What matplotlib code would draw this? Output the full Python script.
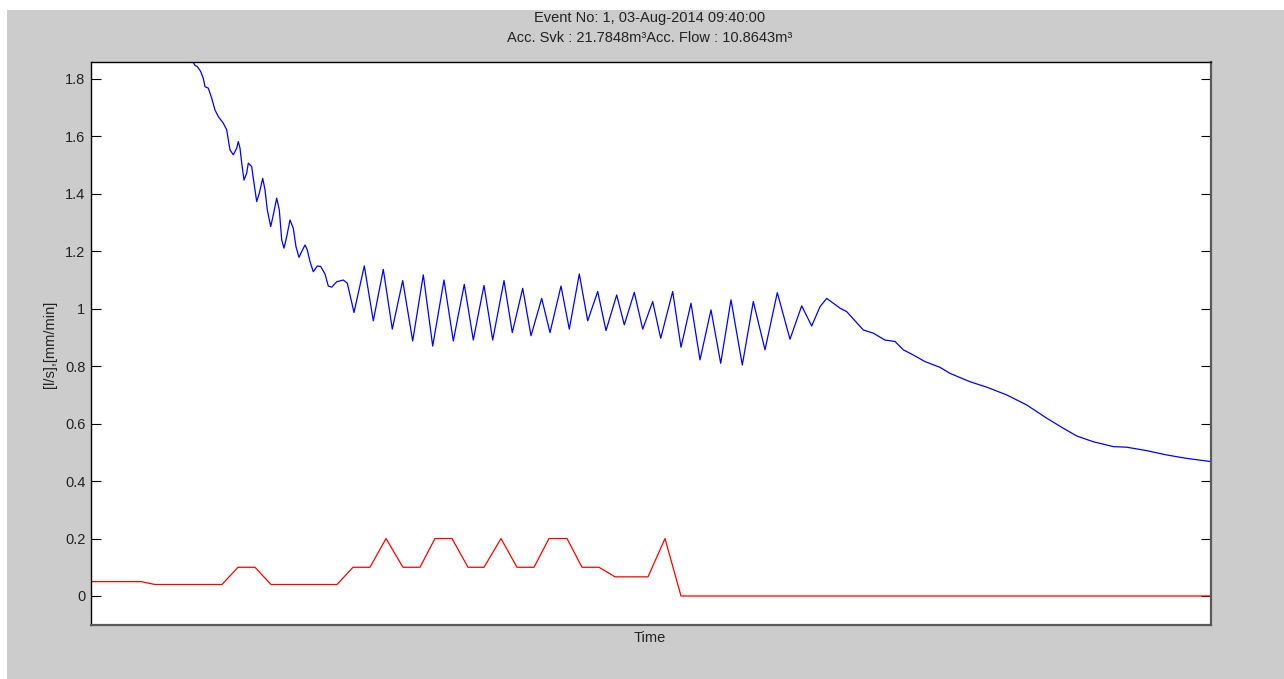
import matplotlib
matplotlib.use("Agg")
import matplotlib.pyplot as plt
from matplotlib.patches import Rectangle
from matplotlib.ticker import FuncFormatter

# ---- data (time index) ----
flow_t = [102.3, 104, 106.3, 109.7, 112.3, 114, 117.3, 120.7, 124, 127.3, 132.3, 135.7,
          137.3, 139, 142.3, 145.7, 147.3, 149, 150.7, 153, 155.7, 157.3, 160.7, 162.3,
          165.7, 168.3, 171.7, 174, 176.3, 179.7, 182.3, 185.7, 188.3, 190.7, 193, 195.7,
          199, 202.3, 205, 208, 210.7, 214, 216.3, 219, 222.3, 226.3, 229.7, 234, 237.3,
          240.7, 245.7, 252.3, 256.3, 263, 273.3, 282.3, 292.3, 301.3, 311.7, 321.7, 332.3,
          341.7, 353, 362.3, 373.3, 382.3, 393, 401.7, 413, 421.3, 431.7, 440, 450.7, 459,
          470, 478.3, 488.3, 496.7, 506.7, 515, 525.7, 533.3, 543.3, 551.7, 561.7, 569.7,
          581.7, 590, 600, 609, 620, 629.7, 640, 651.3, 662.3, 674, 686.3, 699, 710.7,
          720.7, 729, 735.7, 749, 755.7, 772.3, 782.3, 794, 804, 812.3, 822.3, 834, 849,
          859, 879, 895.7, 915.7, 935.7, 955.7, 972.3, 985.7, 1002.3, 1022.3, 1035.7,
          1055.7, 1075.7, 1095.7, 1120]
flow_v = [1.857, 1.847, 1.843, 1.826, 1.802, 1.773, 1.768, 1.733, 1.692, 1.669, 1.646, 1.623,
          1.588, 1.553, 1.536, 1.559, 1.582, 1.559, 1.507, 1.448, 1.472, 1.507, 1.495, 1.454,
          1.373, 1.402, 1.454, 1.414, 1.344, 1.286, 1.327, 1.385, 1.344, 1.240, 1.211, 1.251,
          1.309, 1.280, 1.216, 1.179, 1.199, 1.222, 1.205, 1.164, 1.129, 1.149, 1.147, 1.121,
          1.079, 1.075, 1.094, 1.100, 1.089, 0.987, 1.149, 0.958, 1.137, 0.929, 1.098, 0.888,
          1.118, 0.870, 1.100, 0.888, 1.085, 0.891, 1.081, 0.891, 1.098, 0.917, 1.071, 0.906,
          1.036, 0.917, 1.079, 0.929, 1.121, 0.958, 1.060, 0.924, 1.048, 0.944, 1.057, 0.929,
          1.025, 0.897, 1.060, 0.866, 1.019, 0.822, 0.996, 0.810, 1.031, 0.804, 1.025, 0.857,
          1.056, 0.894, 1.010, 0.940, 1.007, 1.036, 1.002, 0.990, 0.926, 0.915, 0.891, 0.886,
          0.857, 0.839, 0.816, 0.796, 0.775, 0.746, 0.727, 0.700, 0.665, 0.619, 0.584, 0.557,
          0.537, 0.520, 0.518, 0.506, 0.491, 0.479, 0.468]

rain_t = [0, 50, 64, 131, 147, 164, 180, 246, 262, 279, 295, 312, 329, 344, 361, 377, 393,
          410, 426, 443, 458, 476, 491, 508, 524, 557, 574, 590, 1120]
rain_v = [0.05, 0.05, 0.04, 0.04, 0.1, 0.1, 0.04, 0.04, 0.1, 0.1, 0.2, 0.1, 0.1, 0.2, 0.2,
          0.1, 0.1, 0.2, 0.1, 0.1, 0.2, 0.2, 0.1, 0.1, 0.0667, 0.0667, 0.2, 0.0, 0.0]

y_ticks = [0, 0.2, 0.4, 0.6, 0.8, 1.0, 1.2, 1.4, 1.6, 1.8]

title_line1 = "Event No: 1, 03-Aug-2014 09:40:00"
title_line2 = "Acc. Svk : 21.7848m\u00b3Acc. Flow : 10.8643m\u00b3"

plt.rcParams['font.family'] = ['Liberation Sans', 'DejaVu Sans']

W, H = 1284, 679
FS = 10.5
TXT = '#222222'
fig = plt.figure(figsize=(W / 100, H / 100), dpi=100, facecolor='white')
fig.patches.append(Rectangle((7 / W, 0), 1 - 7 / W, 1 - 10 / H, transform=fig.transFigure,
                             facecolor='#cccccc', edgecolor='none', zorder=-10))

ax = fig.add_axes([91 / W, 1 - 625 / H, (1211 - 91) / W, (625 - 62) / H])
ax.set_facecolor('white')
ax.plot(flow_t, flow_v, color='#0000ff', lw=0.9, solid_joinstyle='round')
ax.plot(rain_t, rain_v, color='#ff0000', lw=0.9)

ax.set_xlim(0, 1120)
ax.set_ylim(-0.101, 1.859)
ax.set_xticks([])
ax.set_yticks(y_ticks)
ax.yaxis.set_major_formatter(FuncFormatter(lambda v, p: f"{v:g}"))
ax.tick_params(axis='y', direction='in', length=7.5, width=0.8, labelsize=FS,
               left=True, right=True, colors='black', labelcolor=TXT, pad=4)

for s in ['top', 'left']:
    ax.spines[s].set_color('black')
    ax.spines[s].set_linewidth(1.0)
for s in ['bottom', 'right']:
    ax.spines[s].set_color('#5a5a5a')
    ax.spines[s].set_linewidth(1.6)

fig.text(650 / W, 1 - 18 / H, title_line1, ha='center', va='center', fontsize=FS, color=TXT)
fig.text(650 / W, 1 - 38 / H, title_line2, ha='center', va='center', fontsize=FS, color=TXT)
fig.text(650 / W, 1 - 638 / H, "Time", ha='center', va='center', fontsize=FS, color=TXT)
fig.text(50 / W, 1 - 344 / H, "[l/s],[mm/min]", ha='center', va='center', rotation=90,
         fontsize=FS, color=TXT)

fig.savefig("out.png", dpi=100, facecolor=fig.get_facecolor())
